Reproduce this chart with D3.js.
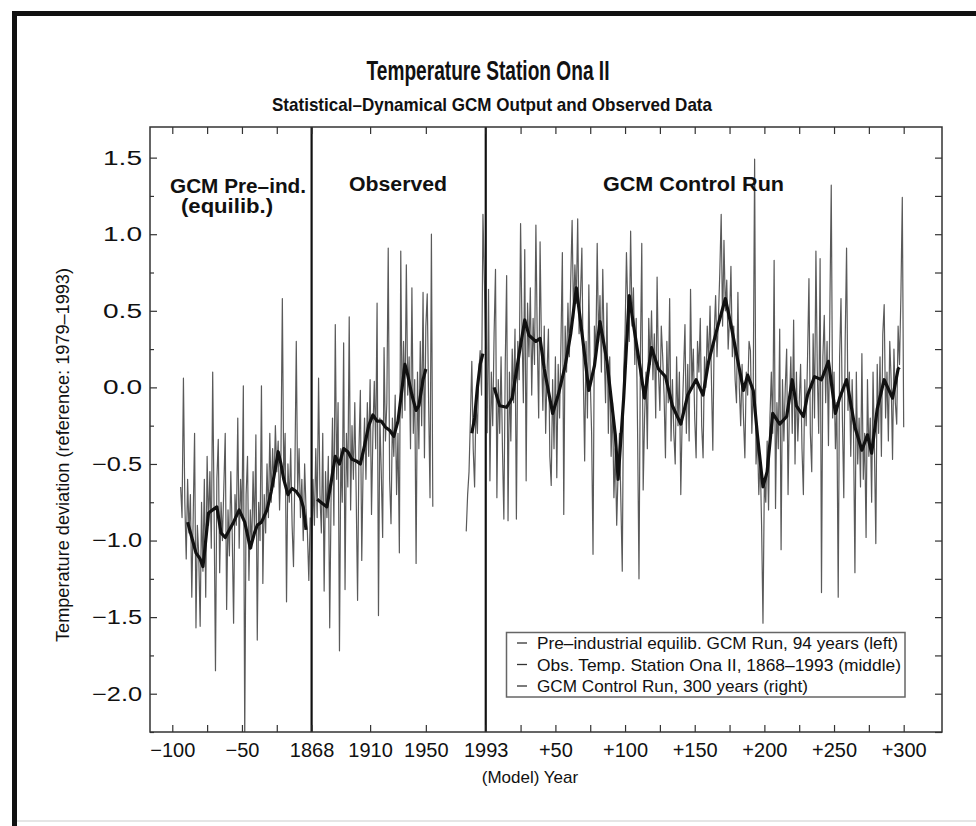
<!DOCTYPE html>
<html><head><meta charset="utf-8">
<script src="https://cdn.jsdelivr.net/npm/d3@7"></script>
<style>
body{margin:0;background:#fff;}
svg{display:block;}
text{font-family:"Liberation Sans",Arial,Helvetica,sans-serif;fill:#111;}
</style>
</head><body>
<svg id="c" width="976" height="826"></svg>
<script>
// ---------------- DATA ----------------
// Pre-industrial equilibrium GCM run, 94 years (model years -94 .. -1)
const preIndYears = d3.range(-94, 0);
const preIndValues = [-0.65,-0.85,0.06,-0.75,-1.12,-0.60,-0.95,-0.70,-1.37,-0.85,
-0.30,-1.57,-0.90,-1.10,-1.56,-0.75,-1.20,-0.60,-1.37,-0.45,
-0.90,-0.55,-1.05,0.10,-0.80,-1.85,-0.60,-0.34,-1.21,-0.75,
-1.00,-0.65,-0.30,-1.45,-0.80,-1.10,-0.55,-0.95,-1.54,-0.70,
-0.90,-0.20,-1.05,-0.60,-0.85,0.01,-2.30,-0.70,-0.45,-1.26,
-0.80,-1.05,-0.55,-0.95,-0.31,-1.65,-0.75,-1.00,0.01,-1.28,
-0.70,-0.95,-0.50,-0.85,-0.30,-0.75,-0.40,-0.65,-0.25,-0.55,
-0.35,-0.80,-0.45,0.58,-0.60,-0.30,-1.40,-0.50,-0.75,-0.40,
-0.90,-1.17,-0.55,0.30,-0.70,-0.40,-0.85,-0.60,-1.00,-0.50,
-0.80,-0.95,-1.26,-0.85];
const preIndSmoothYears = [-89,-86,-83,-80,-78,-76,-74,-71,-68,-65,-62,-59,-56,-52,-48,-44,-41,-39,-36,-32,-29,-27,-24,-22,-20,-17,-14,-11,-8,-6,-4];
const preIndSmoothValues = [-0.88,-0.98,-1.08,-1.12,-1.17,-1.00,-0.82,-0.80,-0.78,-0.95,-0.98,-0.93,-0.88,-0.80,-0.88,-1.05,-0.95,-0.90,-0.88,-0.80,-0.68,-0.58,-0.42,-0.50,-0.60,-0.70,-0.66,-0.68,-0.72,-0.78,-0.93];

// Observed, Station Ona II
const obsYearsA = d3.range(1868, 1956);
const obsValuesA = [-1.19,-0.60,-0.90,-0.40,-0.85,0.06,-0.70,-0.95,-0.30,-1.33,
-0.55,-0.85,-0.45,-1.57,-0.70,-0.20,-0.90,0.41,-0.60,-0.10,
-1.72,-0.40,-0.75,0.29,-1.32,-0.30,-0.65,0.46,-0.80,-0.25,
-0.60,-0.10,-0.70,-1.39,-0.40,-0.02,-1.13,-0.50,-0.20,-0.60,
-0.10,-0.45,0.05,-0.83,-0.30,0.04,-0.40,0.55,-1.49,-0.20,
-0.55,-0.98,0.26,-0.35,-0.10,0.91,-0.60,-0.89,-0.20,-0.45,
-0.05,-0.70,-0.30,-1.08,0.89,-0.20,0.30,-0.15,0.80,-0.05,
0.20,-0.40,0.65,-0.30,0.05,-1.15,0.10,-0.40,0.30,-0.25,
0.62,-0.46,0.40,0.61,-0.10,-0.72,1.00,-0.78];
const obsYearsB = d3.range(1979, 1994);
const obsValuesB = [-0.94,-0.70,-0.55,-0.20,0.17,-0.40,-0.65,-0.10,-0.30,0.10,0.24,-0.05,1.13,0.70,0.25];
const obsSmoothYearsA = [1872,1876,1879,1882,1885,1888,1891,1894,1897,1900,1903,1906,1909,1912,1915,1918,1921,1924,1927,1930,1933,1935,1937,1940,1943,1945,1948,1950];
const obsSmoothValuesA = [-0.73,-0.76,-0.78,-0.62,-0.45,-0.50,-0.40,-0.42,-0.47,-0.48,-0.50,-0.38,-0.25,-0.18,-0.22,-0.22,-0.26,-0.28,-0.32,-0.22,0.00,0.15,0.08,-0.05,-0.15,-0.12,0.05,0.12];
const obsSmoothYearsB = [1983,1985,1987,1989,1991];
const obsSmoothValuesB = [-0.30,-0.20,0.00,0.15,0.22];

// GCM control run, 300 years (+1 .. +300)
const ctrlYears = d3.range(1, 301);
const ctrlValues = [-0.30,0.64,-0.61,0.10,-0.25,0.35,0.77,-0.72,0.05,-0.30,
0.20,-0.40,-0.86,0.15,0.73,-0.87,0.10,-0.35,0.25,-0.10,
0.38,-0.86,0.30,0.05,1.07,0.40,-0.10,0.90,-0.61,0.55,
0.20,0.65,-0.05,0.45,0.15,1.06,0.30,-0.20,0.95,0.25,
-0.15,0.40,-0.30,0.10,0.38,-0.45,-0.64,0.05,-0.40,0.20,
-0.59,0.15,-0.20,0.30,0.88,-0.83,0.40,0.10,0.55,0.20,
0.70,1.09,0.45,0.80,0.55,1.10,0.35,0.60,0.91,0.10,
-0.48,0.30,-0.20,0.67,0.05,-0.30,-1.09,0.40,0.20,0.94,
0.30,0.60,0.10,0.77,0.25,-0.10,0.55,-0.30,0.20,-0.45,
-0.10,-0.72,-0.40,-0.90,-0.55,-0.30,-0.75,-1.20,0.10,0.35,
0.88,0.50,0.30,1.02,0.40,0.65,0.15,0.45,-0.30,-1.25,
0.20,0.94,-0.67,-0.20,0.10,-0.40,0.45,0.15,0.50,0.05,
0.35,-0.20,0.72,0.10,-0.15,0.40,0.20,-0.05,-0.46,0.30,
-0.10,0.58,-0.35,0.05,-0.30,-0.50,0.20,-0.25,0.10,-0.70,
-0.20,0.10,0.41,-0.30,0.15,-0.35,0.64,0.00,0.25,-0.20,
-0.46,0.30,0.10,0.45,-0.25,-0.46,0.20,0.00,0.40,0.15,
0.53,0.05,-0.41,0.35,0.60,0.20,0.45,0.75,1.13,0.40,
0.96,0.50,0.70,0.25,0.45,0.79,0.20,0.40,0.05,-0.10,
0.62,0.00,-0.25,0.15,-0.20,-0.46,0.10,-0.05,0.30,0.24,
-0.30,0.00,1.49,-0.50,-0.30,-0.70,-0.45,-0.90,-1.54,-0.60,
-0.75,-0.35,-0.80,-0.20,0.10,-0.30,0.83,-0.79,-0.10,-0.40,
0.38,-1.06,0.05,-0.35,0.00,0.25,-0.70,-0.10,0.20,-0.30,
0.44,-0.50,0.10,-0.35,-0.10,0.15,-0.40,-0.70,0.05,-0.25,
0.20,0.71,-0.30,-0.55,0.35,-0.20,0.89,0.10,-0.30,0.84,
-1.34,0.20,0.47,-0.10,0.30,-0.38,0.50,1.32,-0.20,0.10,
-0.40,-0.10,-1.37,0.20,0.58,-0.20,-0.72,0.30,0.91,-0.15,
0.10,-0.45,0.05,-0.30,-1.21,0.10,-0.50,-0.20,-0.65,0.22,
-0.60,-0.30,-0.98,0.05,-0.45,-0.20,-0.75,0.10,-0.40,-1.02,
0.15,-0.30,0.20,-0.45,0.35,0.54,-0.20,0.10,-0.35,0.30,
0.05,-0.47,0.25,-0.10,-0.24,0.40,0.15,0.60,1.24,-0.26];
const ctrlSmoothYears = [6,10,15,19,24,28,31,36,39,42,48,52,57,61,65,69,74,78,82,87,93,95,99,103,106,111,114,119,124,129,134,140,145,151,156,160,166,172,176,181,185,188,192,195,199,202,206,211,216,220,223,228,231,236,241,246,251,254,259,265,270,274,277,281,286,292,296,297];
const ctrlSmoothValues = [0.00,-0.12,-0.13,-0.07,0.22,0.44,0.34,0.30,0.32,0.12,-0.17,-0.05,0.14,0.35,0.65,0.36,-0.02,0.14,0.43,0.17,-0.31,-0.60,-0.07,0.60,0.41,0.12,-0.07,0.26,0.12,0.07,-0.12,-0.24,-0.05,0.05,-0.05,0.17,0.38,0.58,0.41,0.17,-0.02,0.08,-0.02,-0.31,-0.65,-0.55,-0.17,-0.24,-0.19,0.05,-0.12,-0.19,-0.05,0.07,0.05,0.17,-0.17,-0.07,0.05,-0.26,-0.41,-0.31,-0.43,-0.14,0.05,-0.07,0.12,0.13];

// axis ticks (positions on the joined time axis: 0 = 1868, 125 = 1993)
const xTickPos = [-100,-75,-50,-25,0,42,82,125,150,175,200,225,250,275,300,325,350,375,400,425];
const xTickLabels = ["\u2212100","","\u221250","","1868","1910","1950","1993","","+50","","+100","","+150","","+200","","+250","","+300"];
const yTickValues = [-2.0,-1.5,-1.0,-0.5,0.0,0.5,1.0,1.5];
const yTickLabels = ["\u22122.0","\u22121.5","\u22121.0","\u22120.5","0.0","0.5","1.0","1.5"];
const yMinorValues = [-2.25,-1.75,-1.25,-0.75,-0.25,0.25,0.75,1.25];
const legendLabels = ["Pre\u2013industrial equilib. GCM Run, 94 years (left)","Obs. Temp. Station Ona II, 1868\u20131993 (middle)","GCM Control Run, 300 years (right)"];

// position mapping of the three segments onto one axis
const posPre = t => t;             // model years before 1868
const posObs = yr => yr - 1868;
const posCtrl = k => 125 + k;

// ---------------- CHART ----------------
const svg = d3.select("#c");
const P = {l:150, r:942, t:127, b:732};
const x = d3.scaleLinear().domain([-116, 452.5]).range([P.l, P.r]);
const y = d3.scaleLinear().domain([-2.25, 1.70]).range([P.b, P.t]);
const FONT = '"Liberation Sans",Arial,Helvetica,sans-serif';

svg.append("rect").attr("width",976).attr("height",826).attr("fill","#fff");
// page frame (scan border)
svg.append("line").attr("x1",12).attr("x2",976).attr("y1",13.5).attr("y2",13.5).attr("stroke","#111").attr("stroke-width",5);
svg.append("line").attr("x1",14.5).attr("x2",14.5).attr("y1",11).attr("y2",826).attr("stroke","#111").attr("stroke-width",5);
svg.append("line").attr("x1",17).attr("x2",976).attr("y1",821).attr("y2",821).attr("stroke","#ddd").attr("stroke-width",1.5);

// titles
svg.append("text").attr("x",488).attr("y",80).attr("text-anchor","middle")
  .attr("font-size",27).attr("font-weight","bold").attr("textLength",243).attr("lengthAdjust","spacingAndGlyphs")
  .text("Temperature Station Ona II");
svg.append("text").attr("x",492).attr("y",111).attr("text-anchor","middle")
  .attr("font-size",19).attr("font-weight","bold").attr("textLength",440).attr("lengthAdjust","spacingAndGlyphs")
  .text("Statistical\u2013Dynamical GCM Output and Observed Data");

// clip
svg.append("clipPath").attr("id","clip").append("rect")
  .attr("x",P.l).attr("y",P.t).attr("width",P.r-P.l).attr("height",P.b-P.t);

const plot = svg.append("g").attr("clip-path","url(#clip)");
const line = d3.line().x(d=>x(d[0])).y(d=>y(d[1]));

function series(xs, vs, f){ return xs.map((v,i)=>[f(v), vs[i]]); }

const thin = [
  series(preIndYears, preIndValues, posPre),
  series(obsYearsA, obsValuesA, posObs),
  series(obsYearsB, obsValuesB, posObs),
  series(ctrlYears, ctrlValues, posCtrl)
];
const thick = [
  series(preIndSmoothYears, preIndSmoothValues, posPre),
  series(obsSmoothYearsA, obsSmoothValuesA, posObs),
  series(obsSmoothYearsB, obsSmoothValuesB, posObs),
  series(ctrlSmoothYears, ctrlSmoothValues, posCtrl)
];
thin.forEach(s=>plot.append("path").attr("d",line(s)).attr("fill","none")
  .attr("stroke","#5a5a5a").attr("stroke-width",1.2).attr("stroke-linejoin","round"));
thick.forEach(s=>plot.append("path").attr("d",line(s)).attr("fill","none")
  .attr("stroke","#111").attr("stroke-width",3.2).attr("stroke-linejoin","round"));

// vertical separators at 1868 and 1993
[posObs(1868), posObs(1993)].forEach(p=>{
  svg.append("line").attr("x1",x(p)).attr("x2",x(p)).attr("y1",P.t).attr("y2",P.b)
    .attr("stroke","#111").attr("stroke-width",2.2);
});

// axes
const fmtX = (d)=>xTickLabels[xTickPos.indexOf(d)];
const gB = svg.append("g").attr("transform",`translate(0,${P.b})`)
  .call(d3.axisBottom(x).tickValues(xTickPos).tickFormat(fmtX).tickSizeInner(-7).tickSizeOuter(0).tickPadding(11));
const gT = svg.append("g").attr("transform",`translate(0,${P.t})`)
  .call(d3.axisTop(x).tickValues(xTickPos).tickFormat("").tickSizeInner(-7).tickSizeOuter(0));
const gL = svg.append("g").attr("transform",`translate(${P.l},0)`)
  .call(d3.axisLeft(y).tickValues(yTickValues).tickFormat((d,i)=>yTickLabels[i]).tickSizeInner(-7).tickSizeOuter(0).tickPadding(8));
const gLm = svg.append("g").attr("transform",`translate(${P.l},0)`)
  .call(d3.axisLeft(y).tickValues(yMinorValues).tickFormat("").tickSizeInner(-4).tickSizeOuter(0));
const gR = svg.append("g").attr("transform",`translate(${P.r},0)`)
  .call(d3.axisRight(y).tickValues(yTickValues.concat(yMinorValues)).tickFormat("").tickSizeInner(-7).tickSizeOuter(0));
[gB,gT,gL,gLm,gR].forEach(g=>{
  g.select(".domain").remove();
  g.selectAll(".tick line").attr("stroke","#333").attr("stroke-width",1.2);
  g.selectAll(".tick text").attr("font-size",20).attr("fill","#111").attr("font-family",FONT);
});
// wider y tick labels, as in the scan
gL.selectAll(".tick text").attr("lengthAdjust","spacingAndGlyphs")
  .attr("textLength",function(){ return this.textContent.startsWith("\u2212") ? 50 : 39; });

// plot frame
svg.append("rect").attr("x",P.l).attr("y",P.t).attr("width",P.r-P.l).attr("height",P.b-P.t)
  .attr("fill","none").attr("stroke","#333").attr("stroke-width",1.5);

// axis titles
svg.append("text").attr("transform","translate(69,455) rotate(-90)").attr("text-anchor","middle")
  .attr("font-size",18).attr("textLength",374).attr("lengthAdjust","spacingAndGlyphs")
  .text("Temperature deviation (reference: 1979\u20131993)");
svg.append("text").attr("x",530).attr("y",783).attr("text-anchor","middle")
  .attr("font-size",17).text("(Model) Year");

// region labels
const reg = [
  {t:"GCM Pre\u2013ind.", x:170, y:193, w:136},
  {t:"(equilib.)", x:181, y:213, w:92},
  {t:"Observed", x:349, y:191, w:98},
  {t:"GCM Control Run", x:603, y:191, w:181}
];
reg.forEach(r=>svg.append("text").attr("x",r.x).attr("y",r.y).attr("font-size",20).attr("font-weight","bold")
  .attr("textLength",r.w).attr("lengthAdjust","spacingAndGlyphs").text(r.t));

// legend
const lg = svg.append("g");
lg.append("rect").attr("x",506.5).attr("y",632.5).attr("width",398.5).attr("height",64.5)
  .attr("fill","#fff").attr("stroke","#666").attr("stroke-width",1.5);
const legW = [361, 364, 271];
legendLabels.forEach((t,i)=>{
  const yy = 649 + i*21.5;
  lg.append("line").attr("x1",517).attr("x2",527).attr("y1",yy-6).attr("y2",yy-6).attr("stroke","#333").attr("stroke-width",1.3);
  lg.append("text").attr("x",537).attr("y",yy).attr("font-size",17)
    .attr("textLength",legW[i]).attr("lengthAdjust","spacingAndGlyphs").text(t);
});
</script>
</body></html>
